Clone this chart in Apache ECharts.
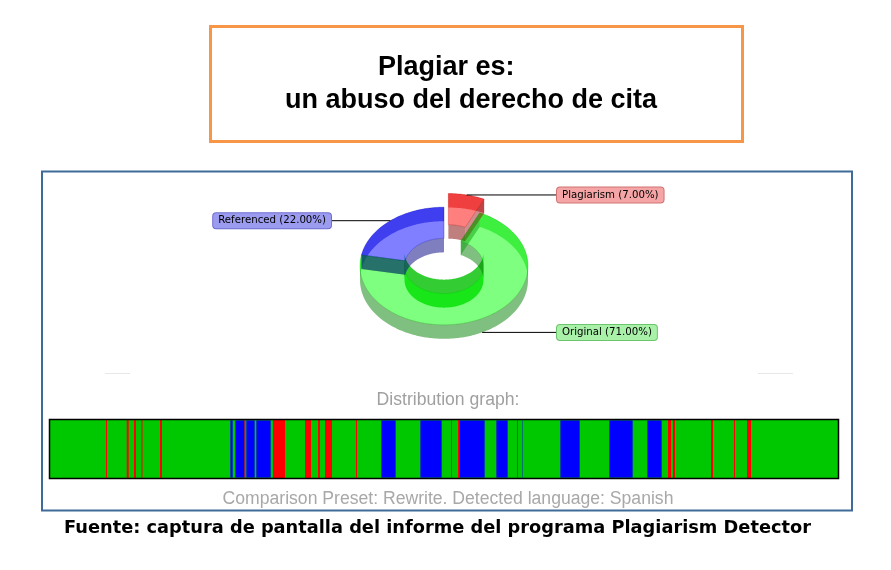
<!DOCTYPE html>
<html><head><meta charset="utf-8">
<script src="https://cdn.jsdelivr.net/npm/echarts@6/dist/echarts.min.js"></script>
<style>html,body{margin:0;padding:0;background:#fff}#c{width:891px;height:570px}</style>
</head><body><div id="c"></div>
<script>
// ---------- data ----------
const sliceNames = ['Plagiarism', 'Original', 'Referenced'];
const sliceValues = [7, 71, 22];
const docLength = 788;
const originalSegments = [[0, 788]];
const referencedSegments = [[180,183],[185,195],[196,205],[206,221],[331,346],[370,392],[401,402],[409,435],[446,458],[472,473],[510,530],[559,583],[597,612]];
const plagiarismSegments = [[56,57],[76.7,78.7],[84,86],[91.5,92.5],[110,112],[194.5,195.5],[223,235],[255,261],[268,270],[275,282],[306,307],[408,409],[467,468],[618,621],[623,625],[661,663],[684,685],[697,701]];
const titleLines = ['Plagiar es:', 'un abuso del derecho de cita'];
const distributionTitle = 'Distribution graph:';
const footnoteText = 'Comparison Preset: Rewrite. Detected language: Spanish';
const sourceText = 'Fuente: captura de pantalla del informe del programa Plagiarism Detector';

// ---------- styles ----------
const sliceStyle = {
  Plagiarism: {top:'rgba(255,0,0,0.5)', back:'rgba(192,0,0,0.5)', hole:'rgba(204,0,0,0.8)', front:'rgba(128,0,0,0.5)', side:'rgba(150,0,0,0.45)', bg:'#f5a5a5', border:'#cf7373'},
  Original:   {top:'rgba(0,255,0,0.5)', back:'rgba(0,192,0,0.5)', hole:'rgba(0,192,0,0.8)', front:'rgba(0,128,0,0.5)', side:'rgba(0,150,0,0.45)', bg:'#a9f0a9', border:'#6cc46c'},
  Referenced: {top:'rgba(0,0,255,0.5)', back:'rgba(0,0,192,0.5)', hole:'rgba(0,0,192,0.8)', front:'rgba(0,0,128,0.5)', side:'rgba(0,0,150,0.45)', bg:'#9b9bf0', border:'#6e6ed0'}
};
const K = 0.7, DEPTH = 14, R_IN = 47, R_OUT = 100, EXPLODE = 20;
const LABEL_RIGHT_X = 557, LABEL_LEFT_X = 331;

const cumStart = [], cumEnd = [];
(function(){ let s = 0; sliceValues.forEach(v => { cumStart.push(s); s += v; cumEnd.push(s); }); })();

function renderDonut(params, api) {
  const cs = params.coordSys;
  const cx = cs.cx, cy = cs.cy;
  const a0 = api.value(1), a1 = api.value(2), v = api.value(3);
  const name = sliceNames[params.dataIndex];
  const st = sliceStyle[name];
  let ox = 0, oy = 0;
  const mid = (a0 + a1) / 2;
  if (name === 'Plagiarism') {
    const m = api.coord([R_OUT, mid]);
    const dx = m[0] - cx, dy = m[1] - cy, len = Math.hypot(dx, dy);
    ox = dx / len * EXPLODE; oy = dy / len * EXPLODE * K;
  }
  function P(r, a, dz) { const p = api.coord([r, a]); return [p[0] + ox, cy + (p[1] - cy) * K + oy + (dz || 0)]; }
  function lower(r, a) { return api.coord([r, a])[1] > cy + 0.001; }
  const angles = [];
  for (let a = a0; a < a1 - 1e-9; a += 0.25) angles.push(a);
  angles.push(a1);
  function runs(r) {
    const out = []; let cur = null, curLow = null;
    angles.forEach((a, i) => {
      const lo = lower(r, a);
      if (cur === null) { cur = [a]; curLow = lo; }
      else if (lo !== curLow) { cur.push(a); out.push({low: curLow, a: cur}); cur = [angles[i-1], a]; curLow = lo; }
      else cur.push(a);
    });
    if (cur && cur.length > 1) out.push({low: curLow, a: cur});
    return out;
  }
  function band(r, list, dzA, dzB) {
    const pts = list.map(a => P(r, a, dzA));
    for (let i = list.length - 1; i >= 0; i--) pts.push(P(r, list[i], dzB));
    return pts;
  }
  const children = [];
  runs(R_OUT).forEach(run => {
    children.push({type:'polygon', z2: run.low ? 3 : 1, shape:{points: band(R_OUT, run.a, 0, DEPTH)}, style:{fill: run.low ? st.front : st.back}});
  });
  runs(R_IN).forEach(run => {
    if (run.low) children.push({type:'polygon', z2: 1, shape:{points: band(R_IN, run.a, -DEPTH, DEPTH)}, style:{fill: st.hole}});
    else children.push({type:'polygon', z2: 3, shape:{points: band(R_IN, run.a, 0, DEPTH)}, style:{fill: st.front}});
  });
  const top = angles.map(a => P(R_OUT, a, 0));
  for (let i = angles.length - 1; i >= 0; i--) top.push(P(R_IN, angles[i], 0));
  children.push({type:'polygon', z2: 2, shape:{points: top}, style:{fill: st.top, stroke: st.back, lineWidth: 0.6}});
  [a0, a1].forEach(a => {
    children.push({type:'polygon', z2: 3, shape:{points:[P(R_IN,a,0), P(R_OUT,a,0), P(R_OUT,a,DEPTH), P(R_IN,a,DEPTH)]}, style:{fill: st.side}});
  });
  const anchor = P(R_OUT, mid, lower(R_OUT, mid) ? DEPTH : 0);
  const right = anchor[0] >= cx;
  const lx = right ? LABEL_RIGHT_X : LABEL_LEFT_X;
  children.push({type:'line', z2: 5, shape:{x1: anchor[0], y1: anchor[1], x2: lx, y2: anchor[1]}, style:{stroke:'#000', lineWidth:1}});
  children.push({type:'text', z2: 6, x: lx, y: anchor[1], style:{
    text: name + ' (' + v.toFixed(2) + '%)', font: '10.2px "DejaVu Sans"', fill: '#000',
    align: right ? 'left' : 'right', verticalAlign: 'middle',
    backgroundColor: st.bg, borderColor: st.border, borderWidth: 1, borderRadius: 3, padding: [3, 5, 2, 5]
  }});
  return {type:'group', children};
}

function segRenderer(fill, stroke) {
  return function (params, api) {
    const y = api.value(2);
    const p0 = api.coord([api.value(0), y]);
    const p1 = api.coord([api.value(1), y]);
    const h = api.size([0, 1])[1];
    return {type:'rect', shape:{x:p0[0], y:p0[1] - h/2, width:p1[0] - p0[0], height:h},
      style:{fill: fill, stroke: stroke || null, lineWidth: stroke ? 1 : 0}};
  };
}

const chart = echarts.init(document.getElementById('c'), null, {renderer:'canvas'});
chart.setOption({
  animation: false,
  backgroundColor: '#fff',
  polar: {center: [444, 266], radius: 84},
  angleAxis: {type:'value', min:0, max:100, startAngle:90, show:false},
  radiusAxis: {type:'value', min:0, max:100, show:false},
  grid: {left: 50, top: 420, width: 788, height: 58, show: false},
  xAxis: {type:'value', min:0, max: docLength, show:false},
  yAxis: {type:'category', data:['Document'], show:false},
  series: [
    {type:'custom', name:'Donut', coordinateSystem:'polar', silent:true,
     data: sliceValues.map((v, i) => ({name: sliceNames[i], value: [R_OUT, cumStart[i], cumEnd[i], v]})),
     renderItem: renderDonut},
    {type:'custom', name:'Original', silent:true, encode:{x:[0,1], y:2},
     data: originalSegments.map(s => [s[0], s[1], 0]), renderItem: segRenderer('#00c800')},
    {type:'custom', name:'Referenced', silent:true, encode:{x:[0,1], y:2},
     data: referencedSegments.map(s => [s[0], s[1], 0]), renderItem: segRenderer('#0000ff', 'rgba(0,200,0,0.7)')},
    {type:'custom', name:'Plagiarism', silent:true, encode:{x:[0,1], y:2},
     data: plagiarismSegments.map(s => [s[0], s[1], 0]), renderItem: segRenderer('#ff0000')}
  ],
  graphic: [
    {type:'rect', z:0, shape:{x:210.5, y:26.5, width:532, height:115}, style:{fill:'#fff', stroke:'#f79646', lineWidth:3}},
    {type:'text', z:1, x:378, y:68, style:{text:titleLines[0], font:'bold 27px "Liberation Sans"', fill:'#000', align:'left', verticalAlign:'middle'}},
    {type:'text', z:1, x:285, y:101, style:{text:titleLines[1], font:'bold 27px "Liberation Sans"', fill:'#000', align:'left', verticalAlign:'middle'}},
    {type:'rect', z:0, shape:{x:42, y:171.5, width:810, height:339}, style:{fill:'none', stroke:'#3f6b98', lineWidth:2}},
    {type:'line', z:1, shape:{x1:105, y1:373.5, x2:130, y2:373.5}, style:{stroke:'#e8e8e8', lineWidth:1}},
    {type:'line', z:1, shape:{x1:758, y1:373.5, x2:793, y2:373.5}, style:{stroke:'#e8e8e8', lineWidth:1}},
    {type:'text', z:1, x:448, y:400, style:{text:distributionTitle, font:'17.6px "Liberation Sans"', fill:'#a0a0a0', align:'center', verticalAlign:'middle'}},
    {type:'rect', z:100, shape:{x:49.5, y:419.5, width:789, height:59}, style:{fill:'none', stroke:'#000', lineWidth:1.5}},
    {type:'text', z:1, x:448, y:499, style:{text:footnoteText, font:'17.6px "Liberation Sans"', fill:'#a8a8a8', align:'center', verticalAlign:'middle'}},
    {type:'text', z:1, x:437.5, y:528, style:{text:sourceText, font:'bold 17.8px "DejaVu Sans"', fill:'#000', align:'center', verticalAlign:'middle'}}
  ]
});
</script></body></html>
